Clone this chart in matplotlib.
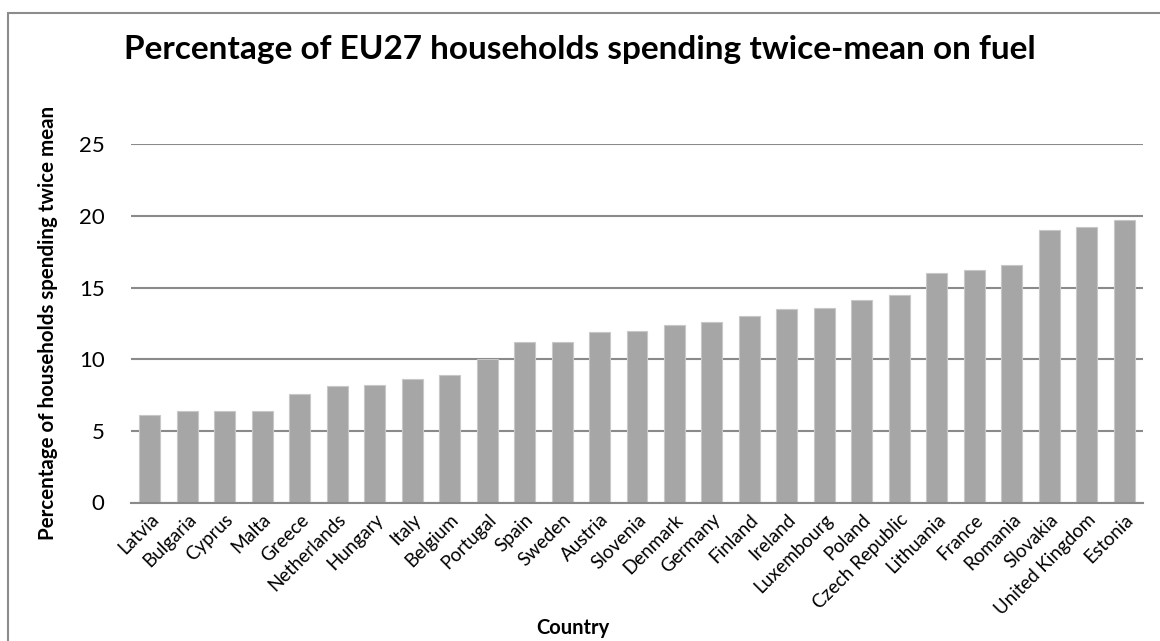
import matplotlib
matplotlib.use("Agg")
import matplotlib.pyplot as plt
from matplotlib.patches import Rectangle

# --- data ---
countries = [
    "Latvia", "Bulgaria", "Cyprus", "Malta", "Greece", "Netherlands", "Hungary",
    "Italy", "Belgium", "Portugal", "Spain", "Sweden", "Austria", "Slovenia",
    "Denmark", "Germany", "Finland", "Ireland", "Luxembourg", "Poland",
    "Czech Republic", "Lithuania", "France", "Romania", "Slovakia",
    "United Kingdom", "Estonia",
]
share_pct = [
    6.1, 6.4, 6.4, 6.4, 7.6, 8.1, 8.2, 8.6, 8.9, 10.0, 11.2, 11.2, 11.9, 12.0,
    12.4, 12.6, 13.0, 13.5, 13.6, 14.1, 14.5, 16.0, 16.2, 16.6, 19.0, 19.2, 19.7,
]
y_ticks = [0, 5, 10, 15, 20, 25]

plt.rcParams["font.family"] = ["Lato", "DejaVu Sans"]

W, H = 1160, 641
fig = plt.figure(figsize=(W / 100, H / 100), dpi=100)

# outer chart frame (only left/top edges visible in the reference)
fig.patches.append(Rectangle((8 / W, -0.05), 1.2, 1 - 13 / H + 0.05,
                             transform=fig.transFigure, fill=False,
                             edgecolor="#8c8c8c", linewidth=1.5))

ax = fig.add_axes([131 / W, 1 - 502.5 / H, (1143 - 131) / W, (502.5 - 144.3) / H])

x = range(len(countries))
ax.bar(x, share_pct, width=0.56, color="#a6a6a6", edgecolor="#c8c8c8",
       linewidth=0.8, zorder=3)

ax.set_xlim(-0.5, len(countries) - 0.5)
ax.set_ylim(0, 25)
ax.set_yticks(y_ticks)
ax.yaxis.grid(True, color="#8a8a8a", linewidth=1.5, zorder=0)
ax.set_axisbelow(True)

for s in ("top", "right", "left"):
    ax.spines[s].set_visible(False)
ax.spines["bottom"].set_color("#8a8a8a")
ax.spines["bottom"].set_linewidth(1.5)
ax.spines["bottom"].set_zorder(4)

ax.tick_params(axis="both", length=0)
ax.tick_params(axis="y", labelsize=16, pad=19)
ax.set_xticks(list(x))
ax.set_xticklabels(countries, rotation=45, ha="right", rotation_mode="anchor",
                   fontsize=13.5)
ax.tick_params(axis="x", pad=6)

fig.text(0.5, 1 - 49 / H, "Percentage of EU27 households spending twice-mean on fuel",
         ha="center", va="center", fontsize=24, fontweight="bold")
fig.text(48 / W, 1 - 323 / H, "Percentage of households spending twice mean",
         ha="center", va="center", rotation=90, fontsize=14.8, fontweight="bold")
fig.text(573 / W, 1 - 628 / H, "Country", ha="center", va="center",
         fontsize=14.5, fontweight="bold")

fig.savefig("out.png", dpi=100)
